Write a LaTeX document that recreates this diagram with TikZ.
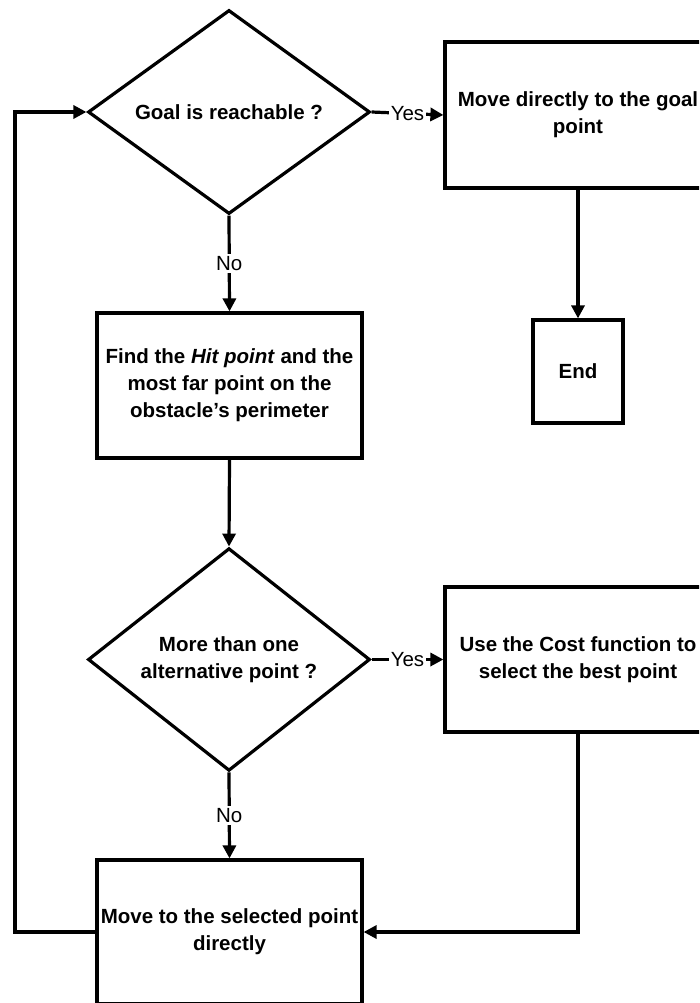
\documentclass[tikz,border=0pt]{standalone}
\usepackage{fontspec}
\setmainfont{Liberation Sans}
\usetikzlibrary{shapes.geometric,arrows.meta}

\begin{document}
\begin{tikzpicture}[x=1pt,y=-1pt,
    box/.style={draw,line width=3.2pt,align=center,inner sep=0pt,
        font=\fontsize{20.5}{27}\selectfont\bfseries},
    decision/.style={box,diamond,minimum width=282pt,minimum height=204pt},
    flow/.style={line width=3.2pt,-{Triangle[length=13pt,width=13pt]}},
    lbl/.style={fill=white,inner sep=2pt,font=\fontsize{20.5}{24}\selectfont}]

    \useasboundingbox (0,0) rectangle (699,1003);
    \clip (0,0) rectangle (699,1003);

    % left column
    \node[decision] (goal) at (229,112) {Goal is reachable ?};
    \node[box,minimum width=265pt,minimum height=145pt] (find) at (229.5,385.5)
        {Find the \textit{Hit point} and the\\most far point on the\\obstacle’s perimeter};
    \node[decision,minimum height=205pt] (more) at (229,659.5) {More than one\\alternative point ?};
    \node[box,minimum width=265pt,minimum height=144pt] (move) at (229.5,932)
        {Move to the selected point\\directly};

    % right column
    \node[box,minimum width=266pt,minimum height=146pt] (direct) at (578,115)
        {Move directly to the goal\\point};
    \node[box,minimum width=90pt,minimum height=103pt] (end) at (578,371.5) {End};
    \node[box,minimum width=266pt,minimum height=145pt] (cost) at (578,659.5)
        {Use the Cost function to\\select the best point};

    \coordinate (loop) at (15,0);

    \draw[flow] (goal.east) -- node[lbl] {Yes} (direct.west);
    \draw[flow] (goal.south) -- node[lbl] {No} (find.north);
    \draw[flow] (direct.south) -- (end.north);
    \draw[flow] (find.south) -- (more.north);
    \draw[flow] (more.east) -- node[lbl] {Yes} (cost.west);
    \draw[flow] (more.south) -- node[lbl] {No} (move.north);
    \draw[flow] (cost.south) |- (move.east);
    \draw[flow] (move.west) -- (move.west -| loop) |- (goal.west);

\end{tikzpicture}
\end{document}
